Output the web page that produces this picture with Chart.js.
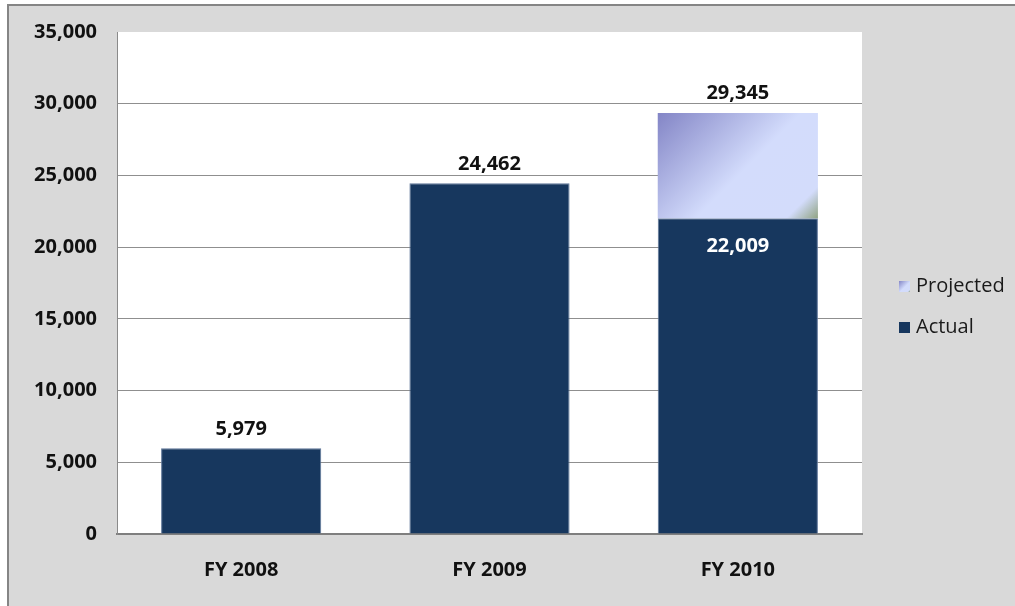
<!DOCTYPE html>
<html>
<head>
<meta charset="utf-8">
<script src="https://cdn.jsdelivr.net/npm/chart.js@4.4.1/dist/chart.umd.min.js"></script>
<style>
  html, body { margin: 0; padding: 0; background: #ffffff; }
  canvas { display: block; }
</style>
</head>
<body>
<canvas id="chart" width="1015" height="606"></canvas>
<script>
// Fiscal years and counts
const categories = ['FY 2008', 'FY 2009', 'FY 2010'];
const actualValues = [5979, 24462, 22009];
const projectedTotals = [null, null, 29345];
const yTickValues = [0, 5000, 10000, 15000, 20000, 25000, 30000, 35000];

const ACTUAL_COLOR = '#17375e';
const BAR_PCT = 0.645;
const FONT = '"Open Sans", "DejaVu Sans", sans-serif';
const fmt = v => v.toLocaleString('en-US');

// Projected bars float from the actual value up to the projected total
const projectedRanges = projectedTotals.map((t, i) => t == null ? null : [actualValues[i], t]);

// 45-degree sheen running from the top-left corner to the bottom-right corner
function projectedFill(ctx, x0, y0, x1, y1) {
  const d = ((x1 - x0) + (y1 - y0)) / 2;
  const g = ctx.createLinearGradient(x0, y0, x0 + d, y0 + d);
  g.addColorStop(0, '#8385c6');
  g.addColorStop(0.54, '#d3dcfc');
  g.addColorStop(0.88, '#d3dcfb');
  g.addColorStop(1, '#90a382');
  return g;
}

// Gradient box for each projected bar, taken from the scales
function projectedBackground(context) {
  const chart = context.chart;
  const sx = chart.scales.x, sy = chart.scales.y;
  const range = context.raw;
  if (!chart.chartArea || !sx || !sy || !Array.isArray(range)) return '#c9d2f8';
  const cx = sx.getPixelForValue(context.dataIndex);
  const half = (sx.width / categories.length) * BAR_PCT / 2;
  const top = sy.getPixelForValue(Math.max(range[0], range[1]));
  const bottom = sy.getPixelForValue(Math.min(range[0], range[1]));
  return projectedFill(chart.ctx, cx - half, top, cx + half, bottom);
}

const backdrop = {
  id: 'backdrop',
  beforeDraw(chart) {
    const { ctx, width, height, chartArea: a } = chart;
    ctx.save();
    ctx.fillStyle = '#ffffff';
    ctx.fillRect(0, 0, width, height);
    ctx.fillStyle = '#d9d9d9';
    ctx.fillRect(7, 4, width - 7, height - 4);
    ctx.strokeStyle = '#858585';
    ctx.lineWidth = 2;
    ctx.beginPath();
    ctx.moveTo(8, height);
    ctx.lineTo(8, 5);
    ctx.lineTo(width, 5);
    ctx.stroke();
    ctx.fillStyle = '#ffffff';
    ctx.fillRect(a.left, a.top, a.right - a.left, a.bottom - a.top);
    ctx.restore();
  }
};

const valueLabels = {
  id: 'valueLabels',
  afterDatasetsDraw(chart) {
    const ctx = chart.ctx;
    ctx.save();
    ctx.font = 'bold 20px ' + FONT;
    ctx.textAlign = 'center';
    ctx.textBaseline = 'middle';
    const actualMeta = chart.getDatasetMeta(0);
    const projMeta = chart.getDatasetMeta(1);
    actualMeta.data.forEach((bar, i) => {
      if (projectedTotals[i] != null) {
        ctx.fillStyle = '#ffffff';
        ctx.fillText(fmt(actualValues[i]), bar.x, bar.y + 28);
      } else {
        ctx.fillStyle = '#111111';
        ctx.fillText(fmt(actualValues[i]), bar.x, bar.y - 19);
      }
    });
    projMeta.data.forEach((bar, i) => {
      if (projectedTotals[i] == null) return;
      ctx.fillStyle = '#111111';
      ctx.fillText(fmt(projectedTotals[i]), bar.x, bar.y - 20);
    });
    ctx.restore();
  }
};

const sideLegend = {
  id: 'sideLegend',
  afterDraw(chart) {
    const ctx = chart.ctx;
    const items = [
      { ds: chart.data.datasets[1], y: 286 },
      { ds: chart.data.datasets[0], y: 327 }
    ];
    ctx.save();
    ctx.font = '20px ' + FONT;
    ctx.textAlign = 'left';
    ctx.textBaseline = 'middle';
    items.forEach((it, k) => {
      const bx = 899, by = it.y - 5, s = 11;
      ctx.fillStyle = k === 0 ? projectedFill(ctx, bx, by, bx + s, by + s) : ACTUAL_COLOR;
      ctx.fillRect(bx, by, s, s);
      ctx.fillStyle = '#1a1a1a';
      ctx.fillText(it.ds.label, 916, it.y);
    });
    ctx.restore();
  }
};

new Chart(document.getElementById('chart'), {
  type: 'bar',
  data: {
    labels: categories,
    datasets: [
      {
        label: 'Actual',
        data: actualValues,
        backgroundColor: ACTUAL_COLOR,
        borderColor: '#5f7699',
        borderWidth: 1,
        barPercentage: BAR_PCT,
        categoryPercentage: 1,
        order: 2
      },
      {
        label: 'Projected',
        data: projectedRanges,
        backgroundColor: projectedBackground,
        borderWidth: 0,
        barPercentage: BAR_PCT,
        categoryPercentage: 1,
        order: 1
      }
    ]
  },
  options: {
    responsive: false,
    animation: false,
    layout: { padding: { left: 0, right: 153, top: 30, bottom: 0 } },
    plugins: {
      legend: { display: false },
      tooltip: { enabled: false }
    },
    scales: {
      x: {
        stacked: true,
        grid: { display: false, drawTicks: false },
        border: { display: true, color: '#7f7f7f', width: 2 },
        ticks: {
          font: { family: FONT, size: 20, weight: 'bold' },
          color: '#111111',
          padding: 24
        },
        afterFit(scale) { scale.height = 72; }
      },
      y: {
        stacked: false,
        min: 0,
        max: 35000,
        afterBuildTicks(scale) { scale.ticks = yTickValues.map(v => ({ value: v })); },
        grid: {
          drawTicks: false,
          color: ctx => (ctx.tick && (ctx.tick.value === 35000 || ctx.tick.value === 0)) ? 'rgba(0,0,0,0)' : '#8f8f8f',
          lineWidth: 1
        },
        border: { display: true, color: '#8a8a8a', width: 1 },
        ticks: {
          font: { family: FONT, size: 20, weight: 'bold' },
          color: '#111111',
          padding: 20,
          callback: v => fmt(v)
        },
        afterFit(scale) { scale.width = 117; }
      }
    }
  },
  plugins: [backdrop, valueLabels, sideLegend]
});
</script>
</body>
</html>
